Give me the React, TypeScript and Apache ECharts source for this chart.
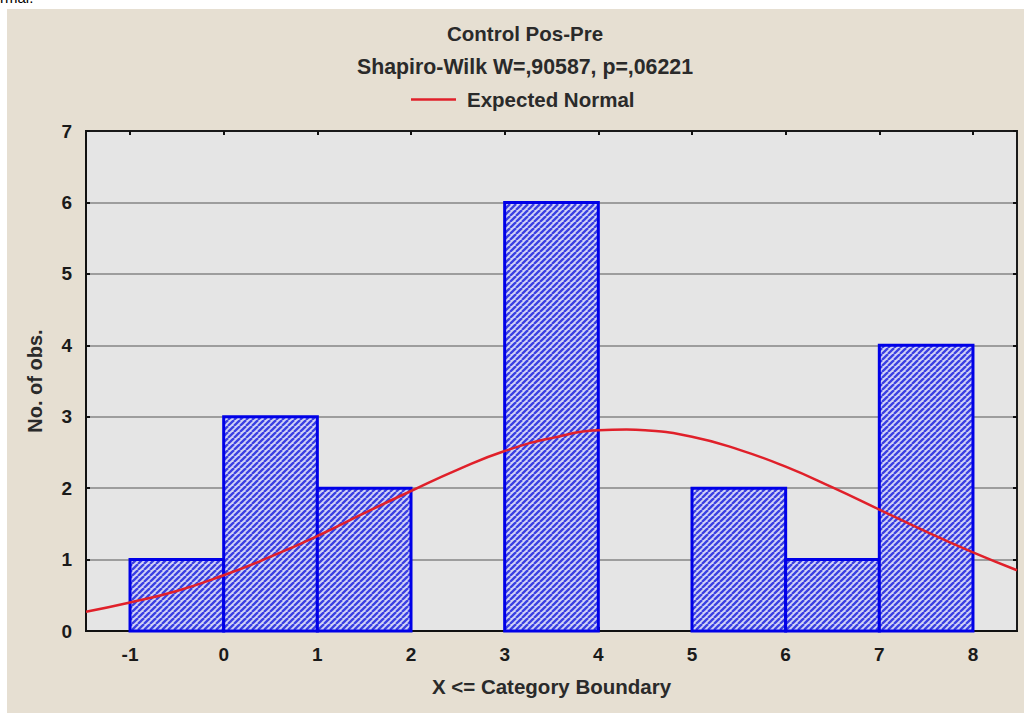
import React, { useEffect, useRef } from "react";
import * as echarts from "echarts";

const binStarts = [-1, 0, 1, 2, 3, 4, 5, 6, 7];
const binEnds = [0, 1, 2, 3, 4, 5, 6, 7, 8];
const counts = [1, 3, 2, 0, 6, 0, 2, 1, 4];

const curveX = [-1.47, -1, -0.5, 0, 0.5, 1, 1.5, 2, 2.5, 3, 3.5, 4, 4.3, 4.5, 5, 5.5, 6, 6.5, 7, 7.5, 8, 8.47];
const curveY = [0.27, 0.4, 0.56, 0.78, 1.04, 1.33, 1.65, 1.96, 2.26, 2.52, 2.7, 2.81, 2.82, 2.81, 2.72, 2.54, 2.3, 2.01, 1.7, 1.39, 1.1, 0.85];

const xTicks = [-1, 0, 1, 2, 3, 4, 5, 6, 7, 8];
const yTicks = [0, 1, 2, 3, 4, 5, 6, 7];

const titleText = "Control Pos-Pre";
const subtitleText = "Shapiro-Wilk W=,90587, p=,06221";
const legendText = "Expected Normal";
const xName = "X <= Category Boundary";
const yName = "No. of obs.";

function makeTile(): HTMLCanvasElement {
  const c = document.createElement("canvas");
  c.width = 6;
  c.height = 6;
  const ctx = c.getContext("2d")!;
  ctx.fillStyle = "#d2d3f6";
  ctx.fillRect(0, 0, 6, 6);
  ctx.strokeStyle = "#3a3fe2";
  ctx.lineWidth = 2.3;
  for (const k of [-6, 0, 6]) {
    ctx.beginPath();
    ctx.moveTo(k, 6);
    ctx.lineTo(k + 6, 0);
    ctx.stroke();
  }
  return c;
}

export default function App() {
  const ref = useRef<HTMLDivElement>(null);
  useEffect(() => {
    if (!ref.current) return;
    const chart = echarts.init(ref.current, null, { renderer: "svg" });
    const tile = makeTile();
    const pattern: any = { image: tile.toDataURL(), repeat: "repeat", imageWidth: 6, imageHeight: 6 };
    const font = "'Liberation Sans', Arial, sans-serif";
    const barData = binStarts.map((s, i) => [s, binEnds[i], counts[i]]);
    const curveData = curveX.map((x, i) => [x, curveY[i]]);
    const xMin = -1.47;
    const xMax = 8.47;
    chart.setOption({
      animation: false,
      backgroundColor: "#ffffff",
      graphic: [
        { type: "rect", z: -100, shape: { x: 7, y: 9, width: 1017, height: 704 }, style: { fill: "#e6dfd2" } },
        { type: "text", z: 10, left: 0, top: -10, style: { text: "rmal.", fontSize: 15, fill: "#000", fontFamily: font } },
      ],
      title: [
        { text: titleText, left: 520, top: 18, textAlign: "center", textStyle: { fontSize: 20.5, fontWeight: "bold", color: "#2a2a2a", fontFamily: font } },
        { text: subtitleText, left: 520, top: 51, textAlign: "center", textStyle: { fontSize: 21.3, fontWeight: "bold", color: "#2a2a2a", fontFamily: font } },
      ],
      legend: {
        data: [legendText],
        left: 406,
        top: 84,
        icon: "rect",
        itemWidth: 45,
        itemHeight: 2.5,
        textStyle: { fontSize: 20.5, fontWeight: "bold", color: "#2a2a2a", fontFamily: font, padding: [0, 0, 0, 6] },
      },
      grid: {
        left: 86,
        right: 7,
        top: 131,
        bottom: 84,
        show: true,
        backgroundColor: "#e5e5e5",
        borderColor: "#1a1a1a",
        borderWidth: 2,
      },
      xAxis: [
        {
          type: "value",
          min: xMin,
          max: xMax,
          name: xName,
          nameLocation: "middle",
          nameGap: 45,
          nameTextStyle: { fontSize: 20.5, fontWeight: "bold", color: "#2a2a2a", fontFamily: font },
          axisLine: { show: true, onZero: false, lineStyle: { color: "#111", width: 2 } },
          axisTick: { show: true, inside: true, length: 4, customValues: xTicks, lineStyle: { color: "#111", width: 2 } },
          axisLabel: { customValues: xTicks, margin: 14, fontSize: 19, fontWeight: "bold", color: "#1a1a1a", fontFamily: font },
          splitLine: { show: false },
        },
        {
          type: "value",
          position: "top",
          min: xMin,
          max: xMax,
          axisLine: { show: true, onZero: false, lineStyle: { color: "#1a1a1a", width: 2 } },
          axisTick: { show: true, inside: true, length: 4, customValues: xTicks, lineStyle: { color: "#111", width: 2 } },
          axisLabel: { show: false },
          splitLine: { show: false },
        },
      ],
      yAxis: [
        {
          type: "value",
          min: 0,
          max: 7,
          interval: 1,
          name: yName,
          nameLocation: "middle",
          nameGap: 41,
          nameTextStyle: { fontSize: 20, fontWeight: "bold", color: "#2a2a2a", fontFamily: font },
          axisLine: { show: true, onZero: false, lineStyle: { color: "#111", width: 2 } },
          axisTick: { show: true, inside: true, length: 4, lineStyle: { color: "#111", width: 2 } },
          axisLabel: { margin: 14, fontSize: 19, fontWeight: "bold", color: "#1a1a1a", fontFamily: font, formatter: (v: number) => (yTicks.includes(v) ? String(v) : "") },
          splitLine: { show: true, lineStyle: { color: "#858585", width: 1.6 } },
        },
        {
          type: "value",
          position: "right",
          min: 0,
          max: 7,
          interval: 1,
          axisLine: { show: true, onZero: false, lineStyle: { color: "#1a1a1a", width: 2 } },
          axisTick: { show: true, inside: true, length: 4, lineStyle: { color: "#111", width: 2 } },
          axisLabel: { show: false },
          splitLine: { show: false },
        },
      ],
      series: [
        {
          type: "custom",
          name: "bars",
          xAxisIndex: 0,
          yAxisIndex: 0,
          data: barData,
          encode: { x: [0, 1], y: 2 },
          renderItem: (params: any, api: any) => {
            const v = api.value(2);
            if (!v) return null;
            const p0 = api.coord([api.value(0), v]);
            const p1 = api.coord([api.value(1), 0]);
            return {
              type: "rect",
              shape: { x: p0[0], y: p0[1], width: p1[0] - p0[0], height: p1[1] - p0[1] },
              style: { fill: pattern, stroke: "#0000e8", lineWidth: 3 },
            };
          },
        },
        {
          type: "line",
          name: legendText,
          xAxisIndex: 0,
          yAxisIndex: 0,
          data: curveData,
          smooth: true,
          showSymbol: false,
          symbol: "none",
          lineStyle: { color: "#e0202a", width: 2.5 },
          itemStyle: { color: "#e0202a" },
          z: 5,
        },
      ],
    });
    return () => chart.dispose();
  }, []);
  return <div ref={ref} style={{ position: "absolute", left: 0, top: 0, width: 1024, height: 715 }} />;
}
